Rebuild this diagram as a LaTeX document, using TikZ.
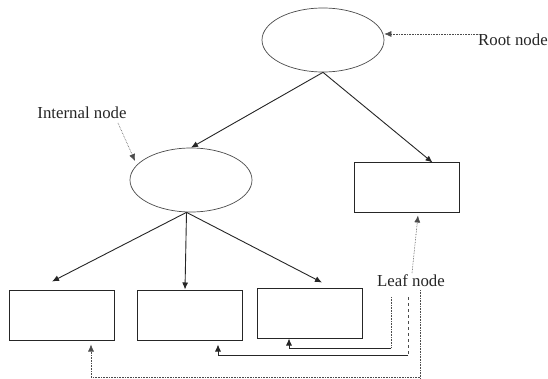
\documentclass[tikz,border=0pt]{standalone}
\usepackage{fontspec}
\setmainfont{Liberation Serif}
\usetikzlibrary{shapes.geometric,arrows.meta}
\begin{document}
\begin{tikzpicture}[x=1pt,y=-1pt,
  ell/.style={draw=black!70,ellipse,minimum width=122pt,minimum height=64pt,inner sep=0pt,line width=0.7pt},
  box/.style={draw=black!85,rectangle,minimum width=105pt,minimum height=50pt,inner sep=0pt,line width=1pt},
  lbl/.style={font=\fontsize{16.8}{19}\selectfont,inner sep=0pt,text=black!85},
  arr/.style={draw=black!85,line width=0.9pt,-{Latex[length=7pt,width=6pt]}},
  ptr/.style={draw=black!70,line width=0.6pt,densely dotted},
  ptrarr/.style={ptr,-{Latex[length=7pt,width=6pt]}}
]
\path[use as bounding box,fill=white] (0,0) rectangle (548,379);
% nodes
\node[ell] (root) at (323,40) {};
\node[ell] (internal) at (191,180) {};
\node[box] (leafR) at (406.5,188) {};
\node[box] (leafA) at (62,315) {};
\node[box] (leafB) at (189.5,315) {};
\node[box] (leafC) at (310,313) {};
% labels
\node[lbl,anchor=west] (rootlbl) at (478,40) {Root node};
\node[lbl] (intlbl) at (82,113) {Internal node};
\node[lbl] (leaflbl) at (411,281) {Leaf node};
% tree edges
\draw[arr] (root.south) -- (internal.north);
\draw[arr] (root.south) -- ([xshift=26pt]leafR.north);
\draw[arr] ([xshift=-4.5pt]internal.south) -- ([xshift=-10pt,yshift=8pt]leafA.north);
\draw[arr] ([xshift=-4.5pt]internal.south) -- ([xshift=-4.5pt]leafB.north);
\draw[arr] ([xshift=-4.5pt]internal.south) -- ([xshift=12pt,yshift=5pt]leafC.north);
% pointers
\draw[ptrarr] ([yshift=6pt]rootlbl.west) -- ([yshift=6pt]root.east);
\coordinate (intA) at (118,123);
\draw[ptrarr] (intA) -- (135,161);
\coordinate (lfA) at (412,273);
\draw[ptrarr] (lfA) -- ([xshift=11.5pt,yshift=-2pt]leafR.south);
% leaf pointers to bottom boxes
\coordinate (c1) at (391,297);
\coordinate (c1b) at (391,348);
\draw[ptr] (c1) -- (c1b);
\draw[arr] (c1b) -| ([xshift=-21pt]leafC.south);
\coordinate (c2) at (408,297);
\coordinate (c2b) at (408,355);
\draw[ptr,dashed] (c2) -- (c2b);
\draw[arr] (c2b) -| ([xshift=28.5pt,yshift=-4pt]leafB.south);
\coordinate (c3) at (420,290);
\coordinate (c3b) at (420,379);
\coordinate (c3h) at (420,377);
\draw[ptr] (c3) -- (c3b);
\draw[ptrarr] (c3h) -| ([xshift=29pt,yshift=-4pt]leafA.south);
\end{tikzpicture}
\end{document}
